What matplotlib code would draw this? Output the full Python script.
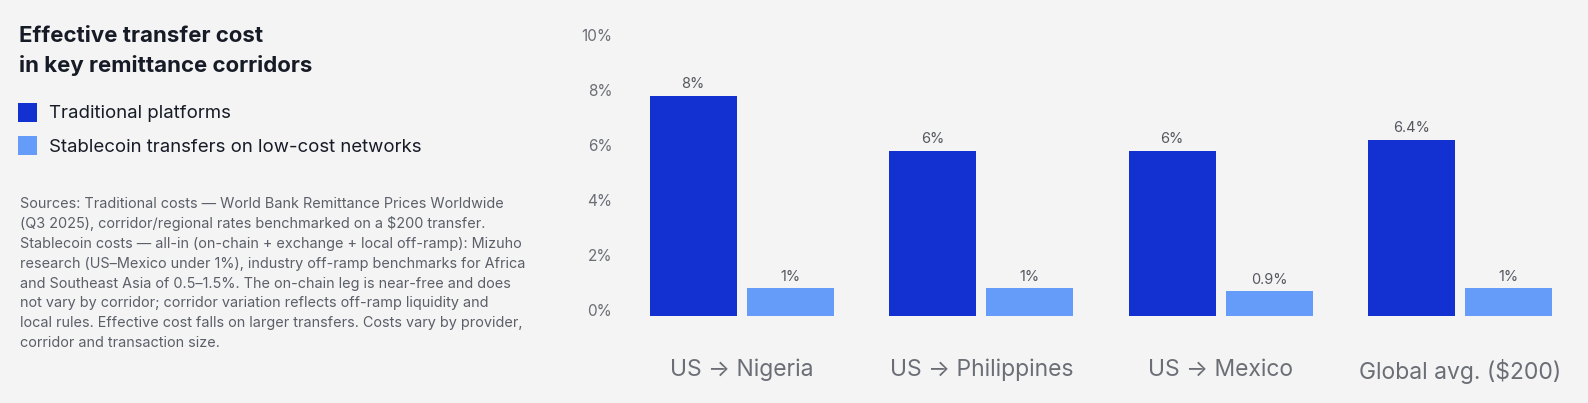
import matplotlib
matplotlib.use("Agg")
import matplotlib.pyplot as plt
import numpy as np

# ── data ────────────────────────────────────────────────────────────────────
corridors = ["US \u2192 Nigeria", "US \u2192 Philippines", "US \u2192 Mexico", "Global avg. ($200)"]
traditional = [8.0, 6.0, 6.0, 6.4]
stablecoin = [1.0, 1.0, 0.9, 1.0]
trad_labels = ["8%", "6%", "6%", "6.4%"]
stable_labels = ["1%", "1%", "0.9%", "1%"]
y_ticks = [0, 2, 4, 6, 8, 10]
series_names = ["Traditional platforms", "Stablecoin transfers on low-cost networks"]

# ── palette ─────────────────────────────────────────────────────────────────
BG = "#f4f4f5"
C_TRAD = "#1330d0"
C_STABLE = "#659cfa"
C_TITLE = "#161b26"
C_TICK = "#6b6e75"
C_BODY = "#5b5f67"
C_VAL = "#55585f"

plt.rcParams["font.family"] = ["Inter", "DejaVu Sans"]

W, H = 1588, 403
fig = plt.figure(figsize=(W / 100, H / 100), dpi=100)
fig.patch.set_facecolor(BG)

# axes placed in pixel terms
ax_l, ax_r = 622, 1580
ax_top, ax_bot = 40.6, 315.6
ax = fig.add_axes([ax_l / W, 1 - ax_bot / H, (ax_r - ax_l) / W, (ax_bot - ax_top) / H])
ax.set_facecolor(BG)

x = np.arange(len(corridors))
bw = 0.364
off = 0.203
b1 = ax.bar(x - off, traditional, bw, color=C_TRAD, zorder=3)
b2 = ax.bar(x + off, stablecoin, bw, color=C_STABLE, zorder=3)

for bars, labels in [(b1, trad_labels), (b2, stable_labels)]:
    for rect, lab in zip(bars, labels):
        ax.annotate(lab, (rect.get_x() + rect.get_width() / 2, rect.get_height()),
                    xytext=(0, 3), textcoords="offset points",
                    ha="center", va="bottom", fontsize=10.5, color=C_VAL)

ax.set_xlim(-0.5, 3.5)
ax.set_ylim(0, 10)
ax.set_yticks(y_ticks)
ax.set_yticklabels([f"{t}%" for t in y_ticks])
plt.setp(ax.get_yticklabels(), va="baseline")
ax.set_xticks(x)
ax.set_xticklabels(corridors)
ax.tick_params(axis="y", length=0, pad=7, labelsize=11, labelcolor=C_TICK)
ax.tick_params(axis="x", length=0, pad=31, labelsize=16.5, labelcolor=C_TICK)
for s in ax.spines.values():
    s.set_visible(False)

# ── left panel: title, legend, sources ──────────────────────────────────────
def px(xp, yp):
    return xp / W, 1 - yp / H

fig.text(*px(19, 42), "Effective transfer cost", fontsize=16, fontweight="bold",
         color=C_TITLE, va="baseline", ha="left")
fig.text(*px(19, 72), "in key remittance corridors", fontsize=16, fontweight="bold",
         color=C_TITLE, va="baseline", ha="left")

for i, (name, col) in enumerate(zip(series_names, [C_TRAD, C_STABLE])):
    yc = 114 + i * 33
    fig.patches.append(matplotlib.patches.Rectangle(px(18, yc + 7.5), 19 / W, 19 / H,
                                                    transform=fig.transFigure,
                                                    facecolor=col, edgecolor="none"))
    fig.text(*px(49, yc), name, fontsize=13.4, color=C_TITLE, va="center", ha="left")

sources = [
    "Sources: Traditional costs \u2014 World Bank Remittance Prices Worldwide",
    "(Q3 2025), corridor/regional rates benchmarked on a $200 transfer.",
    "Stablecoin costs \u2014 all-in (on-chain + exchange + local off-ramp): Mizuho",
    "research (US\u2013Mexico under 1%), industry off-ramp benchmarks for Africa",
    "and Southeast Asia of 0.5\u20131.5%. The on-chain leg is near-free and does",
    "not vary by corridor; corridor variation reflects off-ramp liquidity and",
    "local rules. Effective cost falls on larger transfers. Costs vary by provider,",
    "corridor and transaction size.",
]
for i, line in enumerate(sources):
    fig.text(*px(20, 204 + i * 19.9), line, fontsize=10.4, color=C_BODY,
             va="center", ha="left")

fig.savefig("out.png", dpi=100, facecolor=BG)
